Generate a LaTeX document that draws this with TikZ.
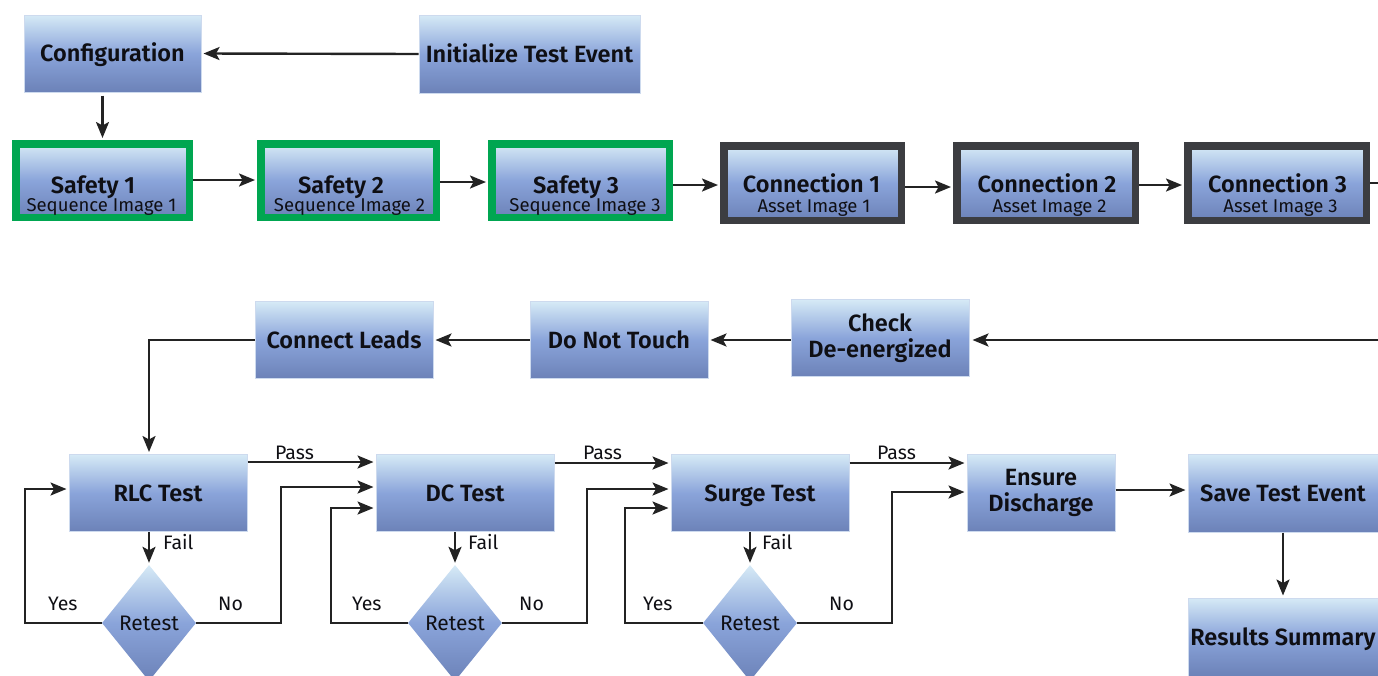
\documentclass[tikz,border=0pt]{standalone}
\usepackage{fontspec}
\setmainfont{Fira Sans}[BoldFont={Fira Sans SemiBold}]
\usetikzlibrary{arrows.meta,shapes.geometric}
\definecolor{boxtop}{RGB}{214,234,246}
\definecolor{boxmid}{RGB}{138,164,218}
\definecolor{boxbot}{RGB}{108,130,184}
\definecolor{boxrim}{RGB}{205,218,238}
\definecolor{safegreen}{RGB}{0,166,81}
\definecolor{assetgray}{RGB}{60,61,65}
\definecolor{wire}{RGB}{35,35,35}
\definecolor{ink}{RGB}{15,15,20}
\begin{document}
\begin{tikzpicture}[x=1pt,y=-1pt,
  grad/.style={top color=boxtop, bottom color=boxbot, middle color=boxmid},
  plainbox/.style={grad, rectangle, draw=boxrim, line width=1pt, minimum width=178pt,
    minimum height=77pt, inner sep=0pt, text=ink,
    font=\bfseries\fontsize{23.5}{26}\selectfont, align=center},
  oneline/.style={plainbox, text height=16pt, text depth=0pt},
  framed/.style={grad, rectangle, line width=7.5pt, inner sep=0pt},
  safebox/.style={framed, draw=safegreen, minimum height=73.5pt},
  assetbox/.style={framed, draw=assetgray, minimum height=74.5pt},
  headtext/.style={anchor=base, inner sep=0pt, text=ink, font=\bfseries\fontsize{23.5}{26}\selectfont},
  subtext/.style={anchor=base, inner sep=0pt, text=ink, font=\fontsize{18.5}{21}\selectfont},
  decide/.style={grad, diamond, minimum width=94pt, minimum height=116pt, inner sep=0pt,
    text=ink, font=\fontsize{21}{24}\selectfont},
  edgetag/.style={anchor=base west, inner sep=0pt, text=ink, font=\fontsize{19.5}{22}\selectfont},
  wireline/.style={draw=wire, line width=2.4pt},
  arrowline/.style={wireline, -{Stealth[length=16pt,width=13pt,inset=3.5pt]}, shorten >=2pt},
  ]
\useasboundingbox (0,0) rectangle (1378,675);
\clip (0,0) rectangle (1378,675);

% --- set-up
\node[oneline, minimum width=177pt] (cfg) at (112.5,53.5) {Configuration};
\node[oneline, minimum width=221pt, minimum height=78pt] (init) at (529.5,54) {Initialize Test Event};

% --- safety sequence (green frames)
\node[safebox, minimum width=173.5pt] (s1) at (102.5,180.5) {};
\node[safebox, minimum width=175.5pt] (s2) at (348.5,180.5) {};
\node[safebox, minimum width=177.5pt] (s3) at (580.5,180.5) {};
\node[headtext] (s1a) at (93,193) {Safety 1};
\node[subtext]  (s1b) at (101.5,211) {Sequence Image 1};
\node[headtext] (s2a) at (341,193) {Safety 2};
\node[subtext]  (s2b) at (349.5,211) {Sequence Image 2};
\node[headtext] (s3a) at (576,193) {Safety 3};
\node[subtext]  (s3b) at (585,211) {Sequence Image 3};

% --- asset connections (dark frames)
\node[assetbox, minimum width=177.5pt] (c1) at (812.5,183) {};
\node[assetbox, minimum width=178.5pt] (c2) at (1046,183) {};
\node[assetbox, minimum width=178.5pt] (c3) at (1277,183) {};
\node[headtext] (c1a) at (811.5,192) {Connection 1};
\node[subtext]  (c1b) at (814,212) {Asset Image 1};
\node[headtext] (c2a) at (1047,192) {Connection 2};
\node[subtext]  (c2b) at (1049.5,212) {Asset Image 2};
\node[headtext] (c3a) at (1277.5,192) {Connection 3};
\node[subtext]  (c3b) at (1280.5,212) {Asset Image 3};

% --- preparation row
\node[oneline] (leads) at (344,340) {Connect Leads};
\node[oneline] (dnt) at (619,340) {Do Not Touch};
\node[plainbox] (chk) at (880,338) {Check\\De-energized};

% --- test row
\node[oneline] (rlc) at (158,493) {RLC Test};
\node[oneline] (dct) at (465,493) {DC Test};
\node[oneline] (srg) at (760,493) {Surge Test};
\node[plainbox, minimum width=148pt] (ens) at (1041,493) {Ensure\\Discharge};
\node[oneline, minimum width=190pt, minimum height=78pt] (save) at (1283,493) {Save Test Event};
\node[oneline, minimum width=190pt, minimum height=78pt] (res) at (1283,637) {Results Summary};

\node[decide] (r1) at (149,623) {Retest};
\node[decide] (r2) at (455,623) {Retest};
\node[decide] (r3) at (750,623) {Retest};

% --- connectors, top
\draw[arrowline] (init.west) -- (cfg.east);
\draw[arrowline, shorten <=3pt] (cfg.south -| s1.north) -- (s1.north);
\draw[arrowline] (s1.east |- 0,180) -- (s2.west |- 0,180);
\draw[arrowline] (s2.east |- 0,182) -- (s3.west |- 0,182);
\draw[arrowline] (s3.east |- 0,185) -- (c1.west |- 0,185);
\draw[arrowline] (c1.east |- 0,187) -- (c2.west |- 0,187);
\draw[arrowline] (c2.east |- 0,185) -- (c3.west |- 0,185);
\coordinate (exit) at (1378,183);
\draw[wireline] (c3.east |- exit) -- (exit);

% --- connectors, preparation
\coordinate (entry) at (1378,340);
\draw[arrowline, shorten >=3pt] (entry) -- (chk.east |- entry);
\draw[arrowline] (chk.west |- entry) -- (dnt.east |- entry);
\draw[arrowline] (dnt.west |- entry) -- (leads.east |- entry);
\draw[arrowline] (leads.west) -| (r1.north |- rlc.north);

% --- connectors, tests
\draw[arrowline] (rlc.east |- 0,462) -- (dct.west |- 0,462);
\draw[arrowline] (dct.east |- 0,463) -- (srg.west |- 0,463);
\draw[arrowline] (srg.east |- 0,463) -- (ens.west |- 0,463);
\draw[arrowline] (ens.east |- 0,490) -- (save.west |- 0,490);
\draw[arrowline] (save.south) -- (res.north);

\draw[arrowline] (rlc.south -| r1.north) -- (r1.north);
\draw[arrowline] (dct.south -| r2.north) -- (r2.north);
\draw[arrowline] (srg.south -| r3.north) -- (r3.north);

\draw[arrowline] (r1.west) -- ++(-77,0) |- (rlc.west |- 0,489);
\draw[arrowline] (r1.east) -- ++(85,0) |- (dct.west |- 0,487);
\draw[arrowline] (r2.west) -- ++(-77,0) |- (dct.west |- 0,508);
\draw[arrowline] (r2.east) -- ++(85,0) |- (srg.west |- 0,489);
\draw[arrowline] (r3.west) -- ++(-78,0) |- (srg.west |- 0,508);
\draw[arrowline] (r3.east) -- ++(95,0) |- (ens.west |- 0,492);

% --- connector labels
\node[edgetag] (p1) at (275,459) {Pass};
\node[edgetag] (p2) at (583,459) {Pass};
\node[edgetag] (p3) at (877,459) {Pass};
\node[edgetag] (f1) at (163,549) {Fail};
\node[edgetag] (f2) at (468,549) {Fail};
\node[edgetag] (f3) at (762,549) {Fail};
\node[edgetag] (y1) at (48,610) {Yes};
\node[edgetag] (y2) at (352,610) {Yes};
\node[edgetag] (y3) at (643,610) {Yes};
\node[edgetag] (n1) at (218,610) {No};
\node[edgetag] (n2) at (519,610) {No};
\node[edgetag] (n3) at (829,610) {No};
\end{tikzpicture}
\end{document}
